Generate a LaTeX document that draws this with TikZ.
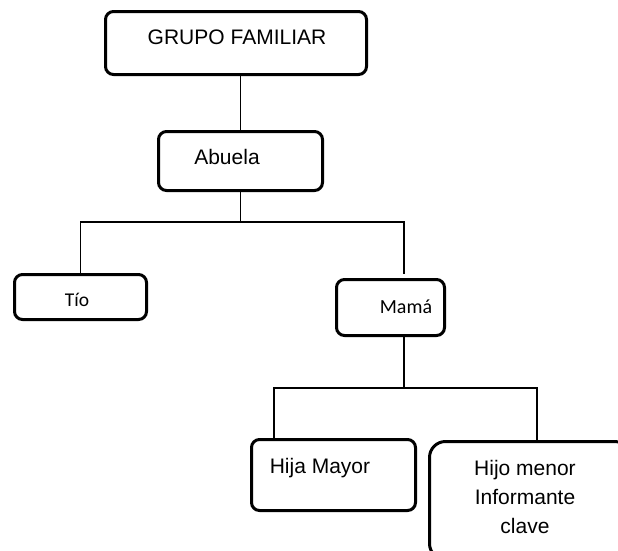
\documentclass[tikz,border=0pt]{standalone}
\usepackage{fontspec}
\setmainfont{Liberation Sans}
\newfontfamily\calib{Carlito}
\begin{document}
\begin{tikzpicture}[x=1pt,y=-1pt,
  box/.style={draw, line width=3pt, rounded corners=8pt, inner sep=0pt},
  conn/.style={line width=1.5pt},
  lbl/.style={inner sep=0pt, font=\fontsize{21}{29}\selectfont, align=center},
  clbl/.style={inner sep=0pt, font=\calib\fontsize{20}{24}\selectfont}]
\useasboundingbox (0,0) rectangle (618,550);
\clip (0,0) rectangle (618,550);
% boxes
\node[box, minimum width=261pt, minimum height=63pt] (gf) at (236,43) {};
\node[box, minimum width=164pt, minimum height=59pt] (ab) at (240.5,161) {};
\node[box, minimum width=132pt, minimum height=45pt] (tio) at (80.5,297) {};
\node[box, minimum width=108pt, minimum height=56pt] (mama) at (390.5,307.5) {};
\node[box, minimum width=164pt, minimum height=71pt] (hija) at (333.5,475) {};
\node[box, rounded corners=16pt, minimum width=201pt, minimum height=118pt] (hijo) at (530,500.5) {};
% texts
\node[lbl] (tgf) at (237,37) {GRUPO FAMILIAR};
\node[lbl] (tab) at (227,157) {Abuela};
\node[clbl, font=\calib\fontsize{19.5}{23}\selectfont] (ttio) at (77,300) {Tío};
\node[clbl] (tmama) at (406,307) {Mamá};
\node[lbl] (thija) at (320,468) {Hija Mayor};
\node[lbl] (thijo) at (525,497) {Hijo menor\\Informante\\clave};
% connectors
\coordinate (mtop) at (404,274);
\draw[conn] (ab.north) -- (ab.north |- gf.south);
\draw[conn] (ab.south) -- ++(0,30) coordinate (j1);
\draw[conn] (tio.north) |- (j1) -| (mtop);
\draw[conn] (mama.south -| mtop) -- ++(0,51) coordinate (j2);
\draw[conn] ([xshift=-59.5pt]hija.north) |- (j2) -| ([xshift=7pt]hijo.north);
\end{tikzpicture}
\end{document}
